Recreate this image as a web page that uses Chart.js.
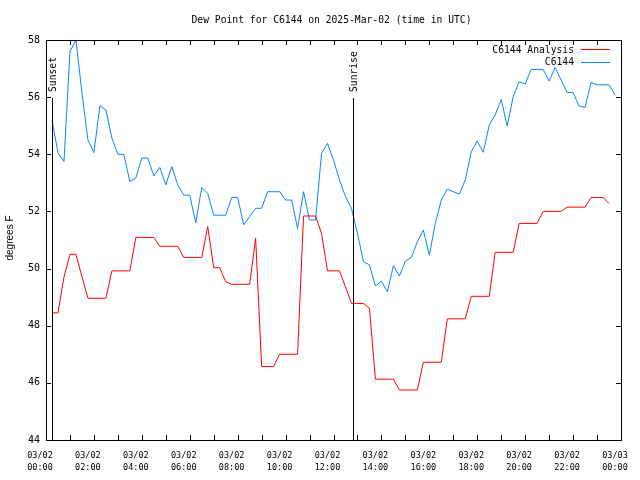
<!doctype html>
<html lang="en">
<head>
<meta charset="utf-8">
<title>Dew Point for C6144</title>
<script src="https://cdn.jsdelivr.net/npm/chart.js"></script>
<style>
  body { margin: 0; background: #fff; }
  #wrap { width: 640px; height: 480px; }
</style>
</head>
<body>
<div id="wrap"><canvas id="dewChart" width="640" height="480"></canvas></div>
<script>
// every 15 minutes, 03/02 00:00 -> 03/03 00:00
const timeLabels = [
  '03/02 00:00','03/02 00:15','03/02 00:30','03/02 00:45','03/02 01:00','03/02 01:15','03/02 01:30','03/02 01:45',
  '03/02 02:00','03/02 02:15','03/02 02:30','03/02 02:45','03/02 03:00','03/02 03:15','03/02 03:30','03/02 03:45',
  '03/02 04:00','03/02 04:15','03/02 04:30','03/02 04:45','03/02 05:00','03/02 05:15','03/02 05:30','03/02 05:45',
  '03/02 06:00','03/02 06:15','03/02 06:30','03/02 06:45','03/02 07:00','03/02 07:15','03/02 07:30','03/02 07:45',
  '03/02 08:00','03/02 08:15','03/02 08:30','03/02 08:45','03/02 09:00','03/02 09:15','03/02 09:30','03/02 09:45',
  '03/02 10:00','03/02 10:15','03/02 10:30','03/02 10:45','03/02 11:00','03/02 11:15','03/02 11:30','03/02 11:45',
  '03/02 12:00','03/02 12:15','03/02 12:30','03/02 12:45','03/02 13:00','03/02 13:15','03/02 13:30','03/02 13:45',
  '03/02 14:00','03/02 14:15','03/02 14:30','03/02 14:45','03/02 15:00','03/02 15:15','03/02 15:30','03/02 15:45',
  '03/02 16:00','03/02 16:15','03/02 16:30','03/02 16:45','03/02 17:00','03/02 17:15','03/02 17:30','03/02 17:45',
  '03/02 18:00','03/02 18:15','03/02 18:30','03/02 18:45','03/02 19:00','03/02 19:15','03/02 19:30','03/02 19:45',
  '03/02 20:00','03/02 20:15','03/02 20:30','03/02 20:45','03/02 21:00','03/02 21:15','03/02 21:30','03/02 21:45',
  '03/02 22:00','03/02 22:15','03/02 22:30','03/02 22:45','03/02 23:00','03/02 23:15','03/02 23:30','03/02 23:45',
  '03/03 00:00'
];

// C6144 station obs (00:15 .. 23:45)
const stationValues = [
  55.2, 54.05, 53.75, 57.6, 58.0, 56.15, 54.5, 54.06, 55.7, 55.55, 54.57, 54.0, 54.0, 53.04, 53.17, 53.87,
  53.87, 53.24, 53.54, 52.93, 53.57, 52.93, 52.57, 52.57, 51.6, 52.84, 52.63, 51.87, 51.87, 51.87, 52.49, 52.49,
  51.53, 51.82, 52.11, 52.11, 52.69, 52.69, 52.69, 52.4, 52.4, 51.41, 52.69, 51.7, 51.7, 54.03, 54.38, 53.8,
  53.1, 52.52, 52.1, 51.23, 50.24, 50.13, 49.39, 49.56, 49.19, 50.1, 49.74, 50.26, 50.39, 50.94, 51.35, 50.47,
  51.58, 52.4, 52.78, 52.69, 52.61, 53.1, 54.09, 54.46, 54.07, 55.02, 55.38, 55.92, 54.99, 56.02, 56.54, 56.46,
  56.97, 56.97, 56.97, 56.56, 57.04, 56.6, 56.16, 56.16, 55.69, 55.64, 56.52, 56.43, 56.43, 56.43, 56.08
];

// C6144 Analysis (00:15 .. 23:30)
const analysisValues = [
  48.45, 48.45, 49.7, 50.5, 50.5, 49.72, 48.96, 48.96, 48.96, 48.96, 49.92, 49.92, 49.92, 49.92, 51.09, 51.09,
  51.09, 51.09, 50.78, 50.78, 50.78, 50.78, 50.39, 50.39, 50.39, 50.39, 51.47, 50.03, 50.03, 49.54, 49.45, 49.45,
  49.45, 49.45, 51.06, 46.57, 46.57, 46.57, 47.0, 47.0, 47.0, 47.0, 51.84, 51.84, 51.84, 51.23, 49.92, 49.92,
  49.92, 49.36, 48.78, 48.78, 48.78, 48.61, 46.13, 46.13, 46.13, 46.13, 45.75, 45.75, 45.75, 45.75, 46.72, 46.72,
  46.72, 46.72, 48.24, 48.24, 48.24, 48.24, 49.03, 49.03, 49.03, 49.03, 50.57, 50.57, 50.57, 50.57, 51.58, 51.58,
  51.58, 51.58, 52.0, 52.0, 52.0, 52.0, 52.15, 52.15, 52.15, 52.15, 52.49, 52.49, 52.49, 52.28
];

const yTicks = [44, 46, 48, 50, 52, 54, 56, 58];

// sun events, in hours UTC
const sunNames = ['Sunset', 'Sunrise'];
const sunHours = [0.23, 12.81];

const seriesNames = ['C6144 Analysis', 'C6144'];
const seriesColors = ['#ff0000', '#0a84ff'];

const chartTitle = 'Dew Point for C6144 on 2025-Mar-02 (time in UTC)';
const yTitle = 'degrees F';

const mono = 'DejaVu Sans Mono';

// gnuplot-like frame, inward ticks, sun lines, legend, titles
const gnuFrame = {
  id: 'gnuFrame',
  afterDatasetsDraw(chart) {
    const ctx = chart.ctx;
    const a = chart.chartArea;
    const xs = chart.scales.x, ys = chart.scales.y;
    ctx.save();
    ctx.strokeStyle = '#000';
    ctx.lineWidth = 1;

    // sunrise / sunset
    ctx.fillStyle = '#000';
    ctx.font = '9.7px "' + mono + '"';
    sunNames.forEach((name, i) => {
      const px = Math.round(xs.getPixelForValue(sunHours[i] * 4)) + 0.5;
      ctx.beginPath();
      ctx.moveTo(px, 98);
      ctx.lineTo(px, a.bottom);
      ctx.stroke();
      ctx.save();
      ctx.translate(px + 1, 92);
      ctx.rotate(-Math.PI / 2);
      ctx.textAlign = 'left';
      ctx.textBaseline = 'middle';
      ctx.fillText(name, 0, 0);
      ctx.restore();
    });

    // frame
    ctx.strokeRect(Math.round(a.left) + 0.5, Math.round(a.top) + 0.5,
      Math.round(a.right - a.left), Math.round(a.bottom - a.top));

    // ticks
    const tl = 5;
    ctx.beginPath();
    xs.ticks.forEach((t, i) => {
      if (i % 4 !== 0) return;
      const px = Math.round(xs.getPixelForTick(i)) + 0.5;
      ctx.moveTo(px, a.bottom); ctx.lineTo(px, a.bottom - tl);
      ctx.moveTo(px, a.top); ctx.lineTo(px, a.top + tl);
    });
    ys.ticks.forEach((t) => {
      const py = Math.round(ys.getPixelForValue(t.value)) + 0.5;
      ctx.moveTo(a.left, py); ctx.lineTo(a.left + tl, py);
      ctx.moveTo(a.right, py); ctx.lineTo(a.right - tl, py);
    });
    ctx.stroke();

    // legend
    ctx.font = '9.7px "' + mono + '"';
    ctx.textAlign = 'right';
    ctx.textBaseline = 'middle';
    chart.data.datasets.forEach((ds, i) => {
      const ly = 50 + i * 12.7;
      ctx.fillStyle = '#000';
      ctx.fillText(ds.label, 574, ly);
      ctx.strokeStyle = ds.borderColor;
      ctx.beginPath();
      ctx.moveTo(581, Math.round(ly) - 0.5);
      ctx.lineTo(610, Math.round(ly) - 0.5);
      ctx.stroke();
    });

    // title
    ctx.fillStyle = '#000';
    ctx.textAlign = 'center';
    ctx.fillText(chartTitle, 331.5, 20.5);

    // y axis title
    ctx.save();
    ctx.translate(10.5, 238);
    ctx.rotate(-Math.PI / 2);
    ctx.font = '10px "Liberation Sans"';
    ctx.textAlign = 'center';
    ctx.textBaseline = 'middle';
    ctx.fillText(yTitle, 0, 0);
    ctx.restore();

    ctx.restore();
  }
};

const ctx = document.getElementById('dewChart').getContext('2d');
new Chart(ctx, {
  type: 'line',
  data: {
    labels: timeLabels,
    datasets: [
      {
        label: seriesNames[0],
        data: [null, ...analysisValues, null, null],
        borderColor: seriesColors[0],
        borderWidth: 1,
        pointRadius: 0,
        fill: false,
        tension: 0
      },
      {
        label: seriesNames[1],
        data: [null, ...stationValues, null],
        borderColor: seriesColors[1],
        borderWidth: 1,
        pointRadius: 0,
        fill: false,
        tension: 0
      }
    ]
  },
  options: {
    responsive: false,
    animation: false,
    layout: { padding: { left: 0, top: 40, right: 19, bottom: 0 } },
    plugins: {
      legend: { display: false },
      title: { display: false },
      tooltip: { enabled: false }
    },
    scales: {
      x: {
        type: 'category',
        offset: false,
        grid: { display: false, drawTicks: false },
        border: { display: false },
        afterFit: s => { s.height = 40; s.paddingLeft = 0; s.paddingRight = 0; },
        ticks: {
          autoSkip: false,
          maxRotation: 0,
          minRotation: 0,
          padding: 10,
          labelOffset: -6,
          color: '#000',
          font: { family: mono, size: 8.5, lineHeight: 1.38 },
          callback: function (v, i) {
            return i % 8 === 0 ? this.getLabelForValue(v).split(' ') : '';
          }
        }
      },
      y: {
        min: yTicks[0],
        max: yTicks[yTicks.length - 1],
        grid: { display: false, drawTicks: false },
        border: { display: false },
        afterFit: s => { s.width = 46; s.paddingTop = 0; s.paddingBottom = 0; },
        afterBuildTicks: s => { s.ticks = yTicks.map(v => ({ value: v })); },
        ticks: {
          padding: 6,
          color: '#000',
          font: { family: mono, size: 10 },
          callback: v => String(v)
        }
      }
    }
  },
  plugins: [gnuFrame]
});
</script>
</body>
</html>
